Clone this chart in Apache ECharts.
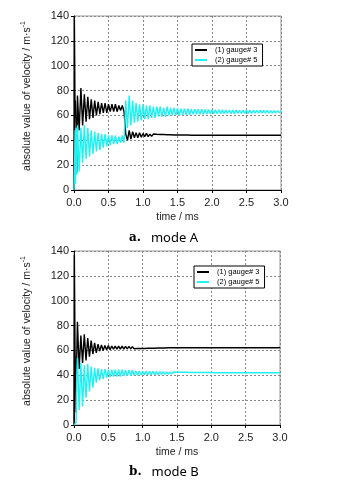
<!DOCTYPE html>
<html><head><meta charset="utf-8">
<script src="https://cdn.jsdelivr.net/npm/echarts@6/dist/echarts.min.js"></script>
<style>html,body{margin:0;padding:0;background:#fff;}#c{width:337px;height:481px;}</style>
</head><body><div id="c"></div>
<script>
const times = [0,0.005,0.01,0.015,0.02,0.03,0.04,0.05,
0.075,0.1,0.125,0.15,0.175,0.2,0.225,0.25,0.275,0.3,
0.325,0.35,0.375,0.4,0.425,0.45,0.475,0.5,0.525,0.55,
0.575,0.6,0.625,0.65,0.675,0.7,0.725,0.75,0.775,0.8,
0.825,0.85,0.875,0.9,0.925,0.95,0.975,1.0,1.025,1.05,
1.075,1.1,1.125,1.15,1.175,1.2,1.225,1.25,1.275,1.3,
1.325,1.35,1.375,1.4,1.425,1.45,1.475,1.5,1.525,1.55,
1.575,1.6,1.625,1.65,1.675,1.7,1.725,1.75,1.775,1.8,
1.825,1.85,1.875,1.9,1.925,1.95,1.975,2.0,2.025,2.05,
2.075,2.1,2.125,2.15,2.175,2.2,2.225,2.25,2.275,2.3,
2.325,2.35,2.375,2.4,2.425,2.45,2.475,2.5,2.525,2.55,
2.575,2.6,2.625,2.65,2.675,2.7,2.725,2.75,2.775,2.8,
2.825,2.85,2.875,2.9,2.925,2.95,2.975,3.0];

// mode A, gauge #3
const modeA_g3 = [0,140,104,58,72,50,14,76,
48,82,52,77,55,75,57,73,58,72,
60,71,61,70,62,70,62,69,63,69,
63,69,63,68,64,68,63,45,40,48,
41,47,42,46,42,46,42.5,45.5,43,45.5,
43,45,43.2,45,43.4,44.8,43.5,44.7,43.6,44.6,
43.7,44.5,43.8,44.4,43.9,44.3,43.9,44.2,44,44.2,
44,44.2,44,44.2,44,44.1,44,44.1,44,44.1,
44,44.1,44,44.1,44,44.1,44,44.1,44,44.1,
44,44.1,44,44.1,44,44.1,44,44.1,44,44.1,
44,44.1,44,44.1,44,44.1,44,44.1,44,44.1,
44,44.1,44,44.1,44,44.1,44,44.1,44,44.1,
44,44.1,44,44.1,44,44.1,44,44.1];

// mode A, gauge #5
const modeA_g5 = [0,0,25,48,5,50,12,52,
15,50,22,52,25,50,27,48,29,47,
31,46,32,45,34,45,35,44,36,44,
37,44,37,43,38,44,38,72,50,76,
52,72,54,70,55,69,56,69,57,68,
57,68,58,67,58,67,59,67,59,66,
59,67,60,66,60,66,60,66,60,65.5,
60.5,65.5,60.5,65.5,60.5,65,61,65,61,65,
61,65,61,64.8,61.2,64.8,61.2,64.6,61.3,64.6,
61.3,64.5,61.4,64.5,61.4,64.4,61.5,64.4,61.5,64.3,
61.5,64.3,61.6,64.2,61.6,64.2,61.7,64.2,61.7,64.1,
61.7,64.1,61.8,64,61.8,64,61.8,64,61.9,64,
61.9,63.9,61.9,63.9,62,63.9,62,63.8];

// mode B, gauge #3
const modeB_g3 = [0,137,100,58,50,10,55,83,
45,72,50,73,52,70,55,68,57,66,
58,65,59.5,64.5,60,64,60.5,64,60.5,63.5,
61,63.5,61,63.5,61,63.5,61,63.2,61.2,63.2,
61.3,63.1,61.4,63,61.5,63,61.5,62.9,61.6,62.8,
61.7,62.7,61.8,62.7,61.8,62.6,61.9,62.5,62,62.4,
62,62.4,62.1,62.3,62.1,62.3,62.2,62.3,62.2,62.3,
62.2,62.3,62.2,62.3,62.2,62.3,62.2,62.3,62.2,62.3,
62.2,62.3,62.2,62.3,62.2,62.3,62.2,62.3,62.2,62.3,
62.2,62.3,62.2,62.3,62.2,62.3,62.2,62.3,62.2,62.3,
62.2,62.3,62.2,62.3,62.2,62.3,62.2,62.3,62.2,62.3,
62.2,62.3,62.2,62.3,62.2,62.3,62.2,62.3,62.2,62.3,
62.2,62.3,62.2,62.3,62.2,62.3,62.2,62.3];

// mode B, gauge #5
const modeB_g5 = [0,0,0,0,0,2,40,54,
12,50,15,48,22,49,27,47,30,46,
34,45.5,36,45,37,45,38,44.5,38.5,44.5,
39,44.5,39,44.5,39,44.5,39.5,44,39.5,44,
39.5,44,40,43.5,40,43.5,40.2,43.3,40.3,43.3,
40.4,43.2,40.5,43.1,40.6,43,40.6,43,40.7,42.9,
40.8,42.8,40.9,42.7,40.9,42.6,41,42.5,41,42.5,
41.1,42.4,41.1,42.4,41.2,42.3,41.2,42.3,41.3,42.3,
41.3,42.2,41.4,42.2,41.4,42.2,41.4,42.2,41.5,42.1,
41.5,42.1,41.5,42.1,41.5,42.1,41.6,42.1,41.6,42,
41.6,42,41.6,42,41.6,42,41.7,42,41.7,42,
41.6,42,41.6,42,41.6,42,41.7,42,41.7,42,
41.7,42,41.7,42,41.7,42,41.7,42];

const seriesNames = ['(1) gauge# 3', '(2) gauge# 5'];
const captions = ['mode A', 'mode B'];
const captionLetters = ['a.', 'b.'];
const yTitle = 'absolute value of velocity / m·s';
const xTitle = 'time / ms';

const pair = v => v.map((y, i) => [times[i], y]);
const FONT = '"Liberation Sans",Arial,sans-serif';

function xAx(gi) {
  return {
    gridIndex: gi, type: 'value', min: 0, max: 3, interval: 0.5,
    name: xTitle, nameLocation: 'middle', nameGap: 22,
    nameTextStyle: {fontFamily: FONT, fontSize: 10.5, color: '#222'},
    axisLine: {show: true, lineStyle: {color: '#000', width: 1}},
    axisTick: {show: true, inside: false, length: 3, lineStyle: {color: '#000'}},
    axisLabel: {fontFamily: FONT, fontSize: 11, color: '#222', margin: 7,
      formatter: v => v.toFixed(1)},
    splitLine: {show: true, lineStyle: {color: '#888', type: [2, 2], width: 1}}
  };
}
function yAx(gi) {
  return {
    gridIndex: gi, type: 'value', min: 0, max: 140, interval: 20,
    name: yTitle + '{s|-1}', nameLocation: 'middle', nameGap: 39,
    nameTextStyle: {fontFamily: FONT, fontSize: 10.5, color: '#222', padding: [0, 0, 0, 14],
      rich: {s: {fontFamily: FONT, fontSize: 7, color: '#222', padding: [0, 0, 8, 0]}}},
    axisLine: {show: true, lineStyle: {color: '#000', width: 1}},
    axisTick: {show: true, inside: false, length: 3, lineStyle: {color: '#000'}},
    axisLabel: {fontFamily: FONT, fontSize: 11, color: '#222', margin: 5},
    splitLine: {show: true, lineStyle: {color: '#888', type: [2, 2], width: 1}}
  };
}
function legend(left, top) {
  return {
    left: left, top: top, orient: 'vertical', data: seriesNames,
    icon: 'rect', itemWidth: 12, itemHeight: 2, itemGap: 2,
    padding: [2, 5, 2, 3], borderColor: '#000', borderWidth: 1,
    backgroundColor: '#fff',
    textStyle: {fontFamily: FONT, fontSize: 7.5, color: '#000', lineHeight: 8, padding: [0, 0, 0, 3]}
  };
}
function caption(i, top) {
  return {
    text: '{b|' + captionLetters[i] + '}  {m|' + captions[i] + '}',
    left: 124, top: top,
    textStyle: {rich: {
      b: {fontFamily: '"DejaVu Serif",serif', fontWeight: 'bold', fontSize: 12, color: '#000'},
      m: {fontFamily: '"Noto Sans",sans-serif', fontWeight: 'normal', fontSize: 13, color: '#000'}
    }}
  };
}
const mk = (name, data, gi, color) => ({
  name: name, type: 'line', xAxisIndex: gi, yAxisIndex: gi,
  data: pair(data), showSymbol: false, symbol: 'none',
  lineStyle: {color: color, width: 1.4}, itemStyle: {color: color}, animation: false
});

const chart = echarts.init(document.getElementById('c'));
chart.setOption({
  animation: false,
  backgroundColor: '#fff',
  title: [caption(0, 224), caption(1, 458)],
  legend: [legend(192, 44), legend(194, 266)],
  grid: [
    {left: 74, top: 16, width: 207, height: 174, show: true, borderColor: '#999', borderWidth: 1},
    {left: 74, top: 251, width: 206, height: 174, show: true, borderColor: '#999', borderWidth: 1}
  ],
  xAxis: [xAx(0), xAx(1)],
  yAxis: [yAx(0), yAx(1)],
  series: [
    mk(seriesNames[0], modeA_g3, 0, '#000000'),
    mk(seriesNames[1], modeA_g5, 0, '#1ff2f2'),
    mk(seriesNames[0], modeB_g3, 1, '#000000'),
    mk(seriesNames[1], modeB_g5, 1, '#1ff2f2')
  ]
});
</script></body></html>
